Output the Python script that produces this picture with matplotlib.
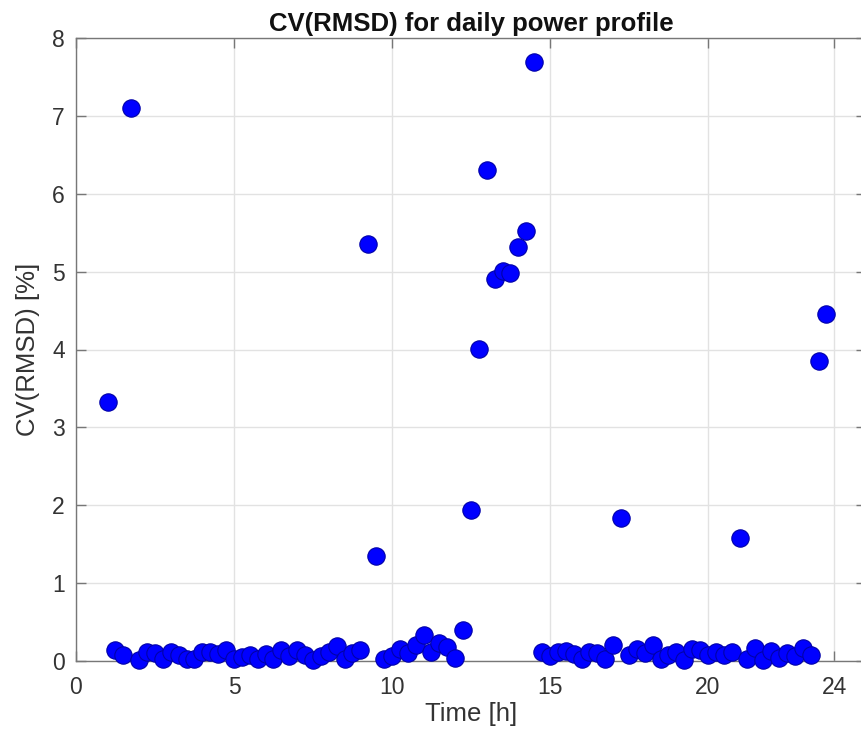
import matplotlib
matplotlib.use("Agg")
import matplotlib.pyplot as plt
import numpy as np

# Time of day [h], 15-minute steps
time_h = [1.0 + 0.25 * k for k in range(92)]

cv_rmsd = [
    3.33, 0.14, 0.08, 7.10, 0.01, 0.12, 0.10, 0.03, 0.11, 0.08,   # 1.00 - 3.25
    0.02, 0.03, 0.12, 0.12, 0.09, 0.14, 0.02, 0.05, 0.08, 0.02,   # 3.50 - 5.75
    0.09, 0.02, 0.14, 0.06, 0.14, 0.08, 0.01, 0.07, 0.11, 0.19,   # 6.00 - 8.25
    0.02, 0.10, 0.14, 5.36, 1.35, 0.02, 0.07, 0.15, 0.10, 0.21,   # 8.50 - 10.75
    0.33, 0.12, 0.23, 0.18, 0.04, 0.40, 1.94, 4.01, 6.31, 4.91,   # 11.00 - 13.25
    5.01, 4.98, 5.31, 5.52, 7.69, 0.12, 0.06, 0.11, 0.13, 0.09,   # 13.50 - 15.75
    0.03, 0.11, 0.10, 0.02, 0.21, 1.83, 0.08, 0.15, 0.10, 0.21,   # 16.00 - 18.25
    0.03, 0.08, 0.11, 0.01, 0.16, 0.14, 0.08, 0.11, 0.08, 0.11,   # 18.50 - 20.75
    1.58, 0.03, 0.17, 0.01, 0.13, 0.04, 0.10, 0.07, 0.17, 0.08,   # 21.00 - 23.25
    3.85, 4.46,                                                   # 23.50 - 23.75
]

x_ticks = [0, 5, 10, 15, 20, 24]
y_ticks = [0, 1, 2, 3, 4, 5, 6, 7, 8]

plt.rcParams['font.family'] = ['Liberation Sans', 'DejaVu Sans']

fig = plt.figure(figsize=(8.62, 7.37), dpi=100)
ax = fig.add_axes([76 / 862, 76 / 737, 790 / 862, 623 / 737])

ax.plot(time_h, cv_rmsd, linestyle='none', marker='o', markersize=12.5,
        markerfacecolor='#0000ff', markeredgecolor='#0000a8', markeredgewidth=0.8,
        zorder=3, clip_on=False)

ax.set_xlim(0, 25)
ax.set_ylim(0, 8)
ax.set_xticks(x_ticks)
ax.set_yticks(y_ticks)
ax.grid(True, color='#e2e2e2', linewidth=1.0, zorder=0)
ax.set_axisbelow(True)

for s in ax.spines.values():
    s.set_color('#777777')
    s.set_linewidth(1.0)
ax.spines['right'].set_visible(False)

ax.tick_params(direction='in', length=7, width=1, color='#777777',
               labelsize=16.5, labelcolor='#333333', top=True, right=True)
ax.tick_params(axis='x', pad=11)
ax.tick_params(axis='y', pad=8)

ax.set_xlabel('Time [h]', fontsize=18.5, color='#333333', labelpad=2)
ax.set_ylabel('CV(RMSD) [%]', fontsize=18.5, color='#333333', labelpad=9)
ax.set_title('CV(RMSD) for daily power profile', fontsize=18.5, fontweight='bold',
             color='#111111', pad=5)

fig.savefig('out.png', dpi=100)
